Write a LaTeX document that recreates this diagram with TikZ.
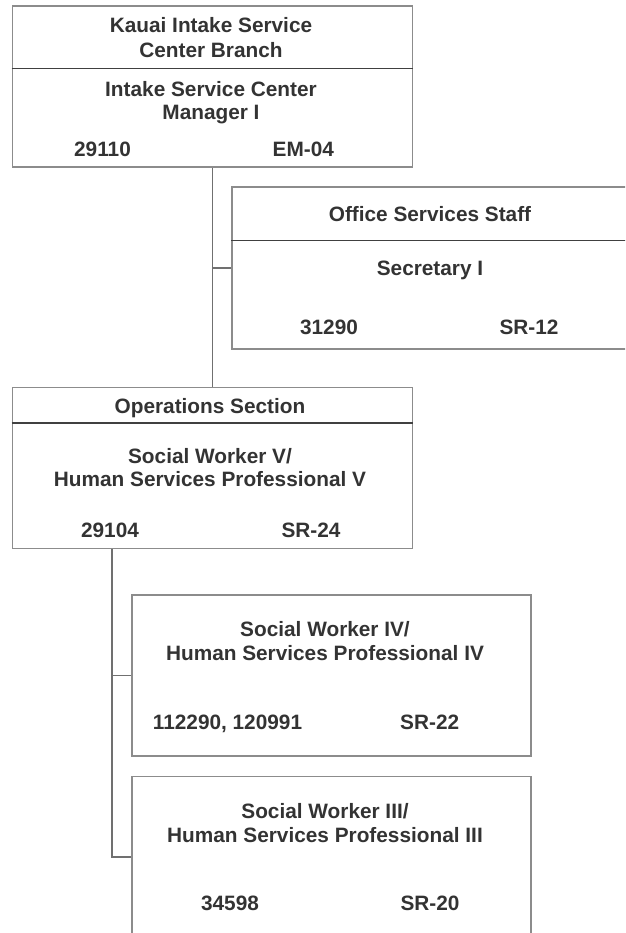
\documentclass[tikz,border=0pt]{standalone}
\usepackage{fontspec}
\setmainfont{Liberation Sans}
\definecolor{boxgray}{HTML}{8C8C8C}
\definecolor{divgray}{HTML}{404040}
\definecolor{conngray}{HTML}{707070}
\definecolor{txtgray}{HTML}{333333}
\begin{document}
\begin{tikzpicture}[x=1pt,y=-1pt,
  orgbox/.style={draw=boxgray,line width=1.6pt,rectangle,anchor=north west,inner sep=0pt,minimum width=400pt,minimum height=161pt},
  divline/.style={draw=divgray,line width=1.4pt},
  conn/.style={draw=conngray,line width=1.6pt},
  lbl/.style={anchor=base,inner sep=0pt,text=txtgray,font=\fontsize{20.8}{25}\selectfont\bfseries}]
\useasboundingbox (0,0) rectangle (625,933);
\clip (0,0) rectangle (625,933);
% boxes
\node[orgbox] (top) at (11.5,5) {};
\node[orgbox,minimum height=162pt] (office) at (231,186) {};
\node[orgbox] (ops) at (11.5,386.5) {};
\node[orgbox,minimum width=399pt] (sw4) at (131.3,594) {};
\node[orgbox,minimum width=399pt] (sw3) at (131.3,775.7) {};
% dividers
\draw[divline] (top.west |- 0,68.5) -- (top.east |- 0,68.5);
\draw[divline] (office.west |- 0,240.7) -- (office.east |- 0,240.7);
\draw[divline] (ops.west |- 0,423) -- (ops.east |- 0,423);
% connectors
\coordinate (j1) at (top.south |- office.west);
\draw[conn] (top.south) -- (ops.north);
\draw[conn] (j1) -- (office.west);
\coordinate (j2) at (111.7,0 |- ops.south);
\coordinate (j3) at (j2 |- sw4.west);
\coordinate (j4) at (j2 |- sw3.west);
\draw[conn] (j2) -- (j4) -- (sw3.west);
\draw[conn] (j3) -- (sw4.west);
% texts
\node[lbl] (t1) at (211,33) {Kauai Intake Service};
\node[lbl] (t2) at (211,57.3) {Center Branch};
\node[lbl] (t3) at (211,96.7) {Intake Service Center};
\node[lbl] (t4) at (211,119.5) {Manager I};
\node[lbl] (t5) at (102.5,156.5) {29110};
\node[lbl] (t6) at (303.3,156.5) {EM-04};
\node[lbl] (o1) at (430,222) {Office Services Staff};
\node[lbl] (o2) at (430,275) {Secretary I};
\node[lbl] (o3) at (329,334) {31290};
\node[lbl] (o4) at (529,334) {SR-12};
\node[lbl] (p1) at (210,413) {Operations Section};
\node[lbl] (p2) at (210,463) {Social Worker V/};
\node[lbl] (p3) at (210,486.7) {Human Services Professional V};
\node[lbl] (p4) at (110,537) {29104};
\node[lbl] (p5) at (311,537) {SR-24};
\node[lbl] (a1) at (325,636) {Social Worker IV/};
\node[lbl] (a2) at (325,660) {Human Services Professional IV};
\node[lbl] (a3) at (227.5,729) {112290, 120991};
\node[lbl] (a4) at (429.7,729) {SR-22};
\node[lbl] (b1) at (325,818) {Social Worker III/};
\node[lbl] (b2) at (325,842.5) {Human Services Professional III};
\node[lbl] (b3) at (230,910) {34598};
\node[lbl] (b4) at (430,910) {SR-20};
\end{tikzpicture}
\end{document}
